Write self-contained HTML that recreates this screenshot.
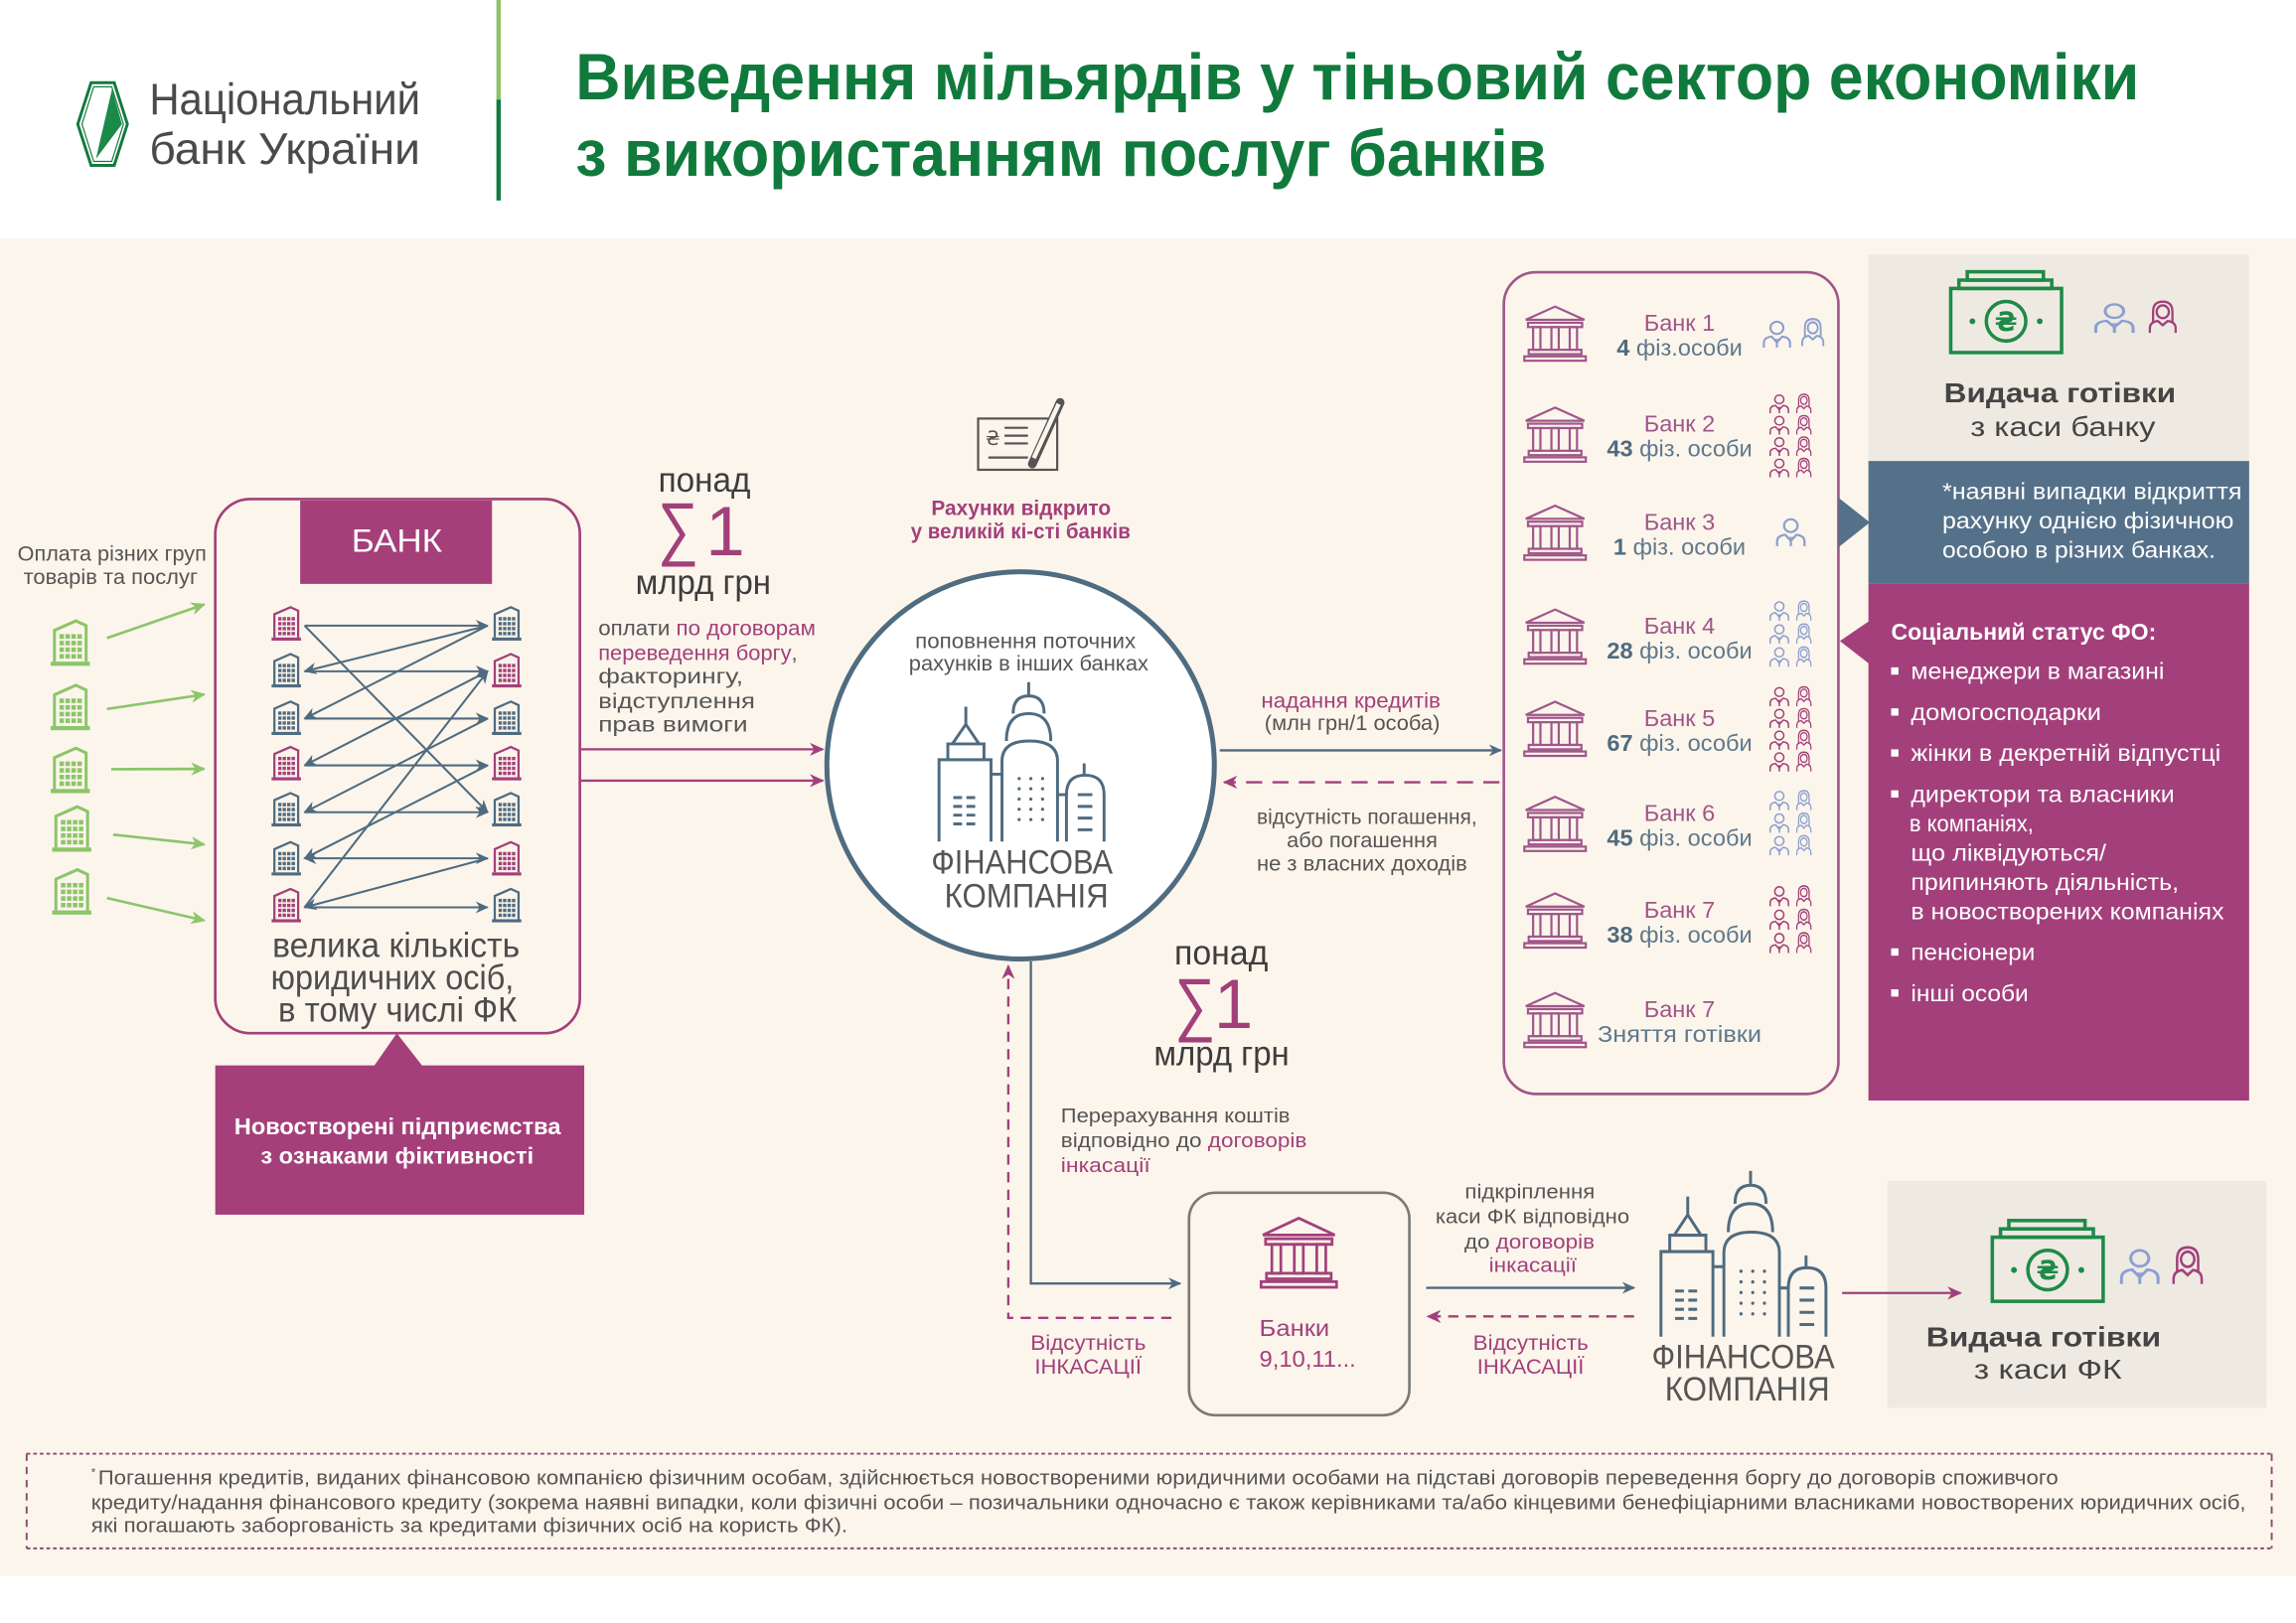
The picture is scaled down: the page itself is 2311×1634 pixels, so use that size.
<!DOCTYPE html>
<html><head><meta charset="utf-8">
<style>
html,body{margin:0;padding:0;background:#fff}
svg{display:block}
text{font-family:"Liberation Sans","DejaVu Sans",sans-serif}
</style></head><body>
<svg xmlns="http://www.w3.org/2000/svg" xmlns:xlink="http://www.w3.org/1999/xlink" width="2311" height="1634" viewBox="0 0 1568 1109" preserveAspectRatio="none">
<defs>
<marker id="mS" viewBox="0 0 10 10" refX="9" refY="5" markerWidth="9" markerHeight="9" markerUnits="userSpaceOnUse" orient="auto-start-reverse"><path d="M0,0.5 L10,5 L0,9.5 L3,5 Z" fill="#4f6b80"/></marker>
<marker id="mP" viewBox="0 0 10 10" refX="9" refY="5" markerWidth="10" markerHeight="10" markerUnits="userSpaceOnUse" orient="auto-start-reverse"><path d="M0,0.5 L10,5 L0,9.5 L3,5 Z" fill="#a2407b"/></marker>
<marker id="mG" viewBox="0 0 10 10" refX="9" refY="5" markerWidth="10" markerHeight="10" markerUnits="userSpaceOnUse" orient="auto"><path d="M0,0.5 L10,5 L0,9.5 L3,5 Z" fill="#8cc56a"/></marker>
<symbol id="temple" viewBox="0 0 44 40" preserveAspectRatio="none">
<g fill="none" stroke="currentColor" stroke-width="1.5">
<path d="M2 10.5 L22 1.5 L42 10.5 Z"/>
<rect x="3.5" y="12.5" width="37" height="3"/>
<rect x="7" y="15.5" width="5" height="15.5"/>
<rect x="19.5" y="15.5" width="5" height="15.5"/>
<rect x="32" y="15.5" width="5" height="15.5"/>
<rect x="4" y="31" width="36" height="3"/>
<rect x="1" y="35.5" width="42" height="3"/>
</g></symbol>
<symbol id="bld" viewBox="0 0 22 27" preserveAspectRatio="none">
<path d="M2.5 24 V7.5 L14 2.5 L19.5 5 V24" fill="none" stroke="currentColor" stroke-width="1.6"/>
<g fill="currentColor">
<rect x="5.2" y="9.5" width="2.4" height="2.4"/><rect x="8.4" y="9.5" width="2.4" height="2.4"/><rect x="11.6" y="9.5" width="2.4" height="2.4"/><rect x="14.8" y="9.5" width="2.4" height="2.4"/>
<rect x="5.2" y="13" width="2.4" height="2.4"/><rect x="8.4" y="13" width="2.4" height="2.4"/><rect x="11.6" y="13" width="2.4" height="2.4"/><rect x="14.8" y="13" width="2.4" height="2.4"/>
<rect x="5.2" y="16.5" width="2.4" height="2.4"/><rect x="8.4" y="16.5" width="2.4" height="2.4"/><rect x="11.6" y="16.5" width="2.4" height="2.4"/><rect x="14.8" y="16.5" width="2.4" height="2.4"/>
<rect x="5.2" y="20" width="2.4" height="2.4"/><rect x="8.4" y="20" width="2.4" height="2.4"/><rect x="11.6" y="20" width="2.4" height="2.4"/><rect x="14.8" y="20" width="2.4" height="2.4"/>
<rect x="0.5" y="24" width="21" height="2.2"/>
</g></symbol>
<symbol id="man" viewBox="0 0 20 20" preserveAspectRatio="none">
<g fill="none" stroke="currentColor" stroke-width="1.4">
<circle cx="10" cy="6" r="4.2"/>
<path d="M1.5 19.5 V16.5 Q1.5 12.5 6.5 12 L10 16 L13.5 12 Q18.5 12.5 18.5 16.5 V19.5"/>
<path d="M9 13.5 L10 16 L11 13.5 M10 16 V19.5"/>
</g></symbol>
<symbol id="wom" viewBox="0 0 20 20" preserveAspectRatio="none">
<g fill="none" stroke="currentColor" stroke-width="1.4">
<path d="M4 13 V7 Q4 1 10 1 Q16 1 16 7 V13"/>
<circle cx="10" cy="7" r="3.8"/>
<path d="M2 19.5 V17 Q2 13 7 12.5 L10 15 L13 12.5 Q18 13 18 17 V19.5"/>
</g></symbol>
<g id="sky" fill="none" stroke="#4f6b80" stroke-width="2">
<path d="M659.6 482.9 V494.9 M650.4 508.3 L659.6 494.9 L668.6 508.3"/>
<path d="M647.3 519.1 V508.3 H672 V519.1"/>
<path d="M641.3 575 V519.1 H676.8 V575"/>
<path d="M702.5 466.1 V475.5"/>
<path d="M691.9 487.6 Q691.9 475.5 702.5 475.5 Q713.1 475.5 713.1 487.6"/>
<path d="M687.3 506.3 Q687.3 487.6 702.5 487.6 Q717.6 487.6 717.6 506.3"/>
<path d="M684.3 575 V520 Q684.3 506.3 703 506.3 Q722.2 506.3 722.2 520 V575"/>
<path d="M740.4 521.6 V529.7"/>
<path d="M728.3 575 V543 Q728.3 529.7 741 529.7 Q754 529.7 754 543 V575"/>
<path d="M676.8 529 H684.3 M722.2 543 H728.3"/>
<path d="M651 545 H657 M660 545 H666 M651 551 H657 M660 551 H666 M651 557 H657 M660 557 H666 M651 563 H657 M660 563 H666"/>
<path d="M736 543 H746 M736 551 H746 M736 559 H746 M736 567 H746"/>
<g fill="#4f6b80" stroke="none">
<circle cx="696" cy="532" r="1.1"/><circle cx="704" cy="532" r="1.1"/><circle cx="712" cy="532" r="1.1"/>
<circle cx="696" cy="539" r="1.1"/><circle cx="704" cy="539" r="1.1"/><circle cx="712" cy="539" r="1.1"/>
<circle cx="696" cy="546" r="1.1"/><circle cx="704" cy="546" r="1.1"/><circle cx="712" cy="546" r="1.1"/>
<circle cx="696" cy="553" r="1.1"/><circle cx="704" cy="553" r="1.1"/><circle cx="712" cy="553" r="1.1"/>
<circle cx="696" cy="560" r="1.1"/><circle cx="704" cy="560" r="1.1"/><circle cx="712" cy="560" r="1.1"/>
</g>
</g>
<g id="money">
<g fill="none" stroke="#1f8a47" stroke-width="2.4">
<rect x="1343.5" y="185.7" width="52" height="5.7"/>
<rect x="1337.8" y="191.4" width="63.4" height="5.7"/>
<rect x="1332.2" y="197.1" width="75.7" height="43.8"/>
<circle cx="1370" cy="219.5" r="13.5"/>
</g>
<circle cx="1347" cy="219.5" r="2" fill="#1f8a47"/>
<circle cx="1393" cy="219.5" r="2" fill="#1f8a47"/>
<text x="1370" y="226" font-size="18" font-weight="bold" fill="#1f8a47" text-anchor="middle" style="font-family:'DejaVu Sans',sans-serif">₴</text>
</g>
</defs>

<!-- backgrounds -->
<rect width="1568" height="1109" fill="#fff"/>
<rect y="163" width="1568" height="914" fill="#fcf5eb"/>

<!-- header -->
<polygon points="62.2,56.5 78,56.5 87,84.8 78,113 62.2,113 53.1,84.8" fill="none" stroke="#137a3f" stroke-width="2"/>
<polygon points="64,59.3 76.3,59.3 84.3,84.8 76.3,110.3 64,110.3 56,84.8" fill="none" stroke="#137a3f" stroke-width="0.8"/>
<polygon points="76.5,61 83.3,84.8 65.5,108.5" fill="#1a8a48"/>
<text x="102" y="78" font-size="30" fill="#4a4a4a" textLength="185" lengthAdjust="spacingAndGlyphs">Національний</text>
<text x="102" y="112" font-size="30" fill="#4a4a4a" textLength="185" lengthAdjust="spacingAndGlyphs">банк України</text>
<rect x="339" y="0" width="3" height="68" fill="#8dc26b"/>
<rect x="339" y="68" width="3" height="69" fill="#137a3f"/>
<text x="393" y="68" font-size="45" font-weight="bold" fill="#107a3c" textLength="1068" lengthAdjust="spacingAndGlyphs">Виведення мільярдів у тіньовий сектор економіки</text>
<text x="393" y="120" font-size="45" font-weight="bold" fill="#107a3c" textLength="663" lengthAdjust="spacingAndGlyphs">з використанням послуг банків</text>

<!-- left inputs -->
<text x="12" y="383" font-size="14.5" fill="#555" textLength="129" lengthAdjust="spacingAndGlyphs">Оплата різних груп</text>
<text x="16" y="399" font-size="14.5" fill="#555" textLength="119" lengthAdjust="spacingAndGlyphs">товарів та послуг</text>
<g style="color:#8cc56a">
<use xlink:href="#bld" href="#bld" x="34" y="421" width="28" height="35"/>
<use xlink:href="#bld" href="#bld" x="34" y="465" width="28" height="35"/>
<use xlink:href="#bld" href="#bld" x="34" y="508" width="28" height="35"/>
<use xlink:href="#bld" href="#bld" x="35" y="548" width="28" height="35"/>
<use xlink:href="#bld" href="#bld" x="35" y="591" width="28" height="35"/>
</g>
<g stroke="#8cc56a" stroke-width="1.8" marker-end="url(#mG)">
<line x1="73" y1="436" x2="139.5" y2="413"/>
<line x1="73" y1="484.5" x2="139.5" y2="474.5"/>
<line x1="76" y1="525.6" x2="139.5" y2="525.4"/>
<line x1="77.3" y1="570.3" x2="139.5" y2="577"/>
<line x1="73" y1="613.6" x2="139.5" y2="629"/>
</g>

<!-- bank box -->
<rect x="147" y="341" width="249" height="365" rx="24" fill="none" stroke="#a2407b" stroke-width="1.8"/>
<rect x="205" y="342" width="131" height="57" fill="#a43f7a"/>
<text x="240" y="377" font-size="22" fill="#fff" textLength="62" lengthAdjust="spacingAndGlyphs">БАНК</text>
<g>
<use xlink:href="#bld" href="#bld" x="185" y="412.5" width="21" height="26" style="color:#a2407b"/>
<use xlink:href="#bld" href="#bld" x="185" y="444.5" width="21" height="26" style="color:#4f6b80"/>
<use xlink:href="#bld" href="#bld" x="185" y="477" width="21" height="26" style="color:#4f6b80"/>
<use xlink:href="#bld" href="#bld" x="185" y="508" width="21" height="26" style="color:#a2407b"/>
<use xlink:href="#bld" href="#bld" x="185" y="539.5" width="21" height="26" style="color:#4f6b80"/>
<use xlink:href="#bld" href="#bld" x="185" y="573" width="21" height="26" style="color:#4f6b80"/>
<use xlink:href="#bld" href="#bld" x="185" y="605" width="21" height="26" style="color:#a2407b"/>
<use xlink:href="#bld" href="#bld" x="335.5" y="412.5" width="21" height="26" style="color:#4f6b80"/>
<use xlink:href="#bld" href="#bld" x="335.5" y="444.5" width="21" height="26" style="color:#a2407b"/>
<use xlink:href="#bld" href="#bld" x="335.5" y="477" width="21" height="26" style="color:#4f6b80"/>
<use xlink:href="#bld" href="#bld" x="335.5" y="508" width="21" height="26" style="color:#a2407b"/>
<use xlink:href="#bld" href="#bld" x="335.5" y="539.5" width="21" height="26" style="color:#4f6b80"/>
<use xlink:href="#bld" href="#bld" x="335.5" y="573" width="21" height="26" style="color:#a2407b"/>
<use xlink:href="#bld" href="#bld" x="335.5" y="605" width="21" height="26" style="color:#4f6b80"/>
</g>
<g stroke="#4f6b80" stroke-width="1.4" fill="none" marker-end="url(#mS)">
<line x1="208" y1="427.5" x2="333" y2="427.5"/>
<line x1="208" y1="458.7" x2="333" y2="458.7"/>
<line x1="208" y1="491" x2="333" y2="491"/>
<line x1="208" y1="523" x2="333" y2="523"/>
<line x1="208" y1="555" x2="333" y2="555"/>
<line x1="208" y1="586.5" x2="333" y2="586.5" marker-start="url(#mS)"/>
<line x1="208" y1="620" x2="333" y2="620"/>
<line x1="208" y1="427.5" x2="333" y2="555"/>
<line x1="333" y1="427.5" x2="208" y2="458.7"/>
<line x1="333" y1="427.5" x2="208" y2="491"/>
<line x1="333" y1="458.7" x2="208" y2="523"/>
<line x1="333" y1="491" x2="208" y2="555"/>
<line x1="333" y1="523" x2="208" y2="586.5"/>
<line x1="208" y1="620" x2="333" y2="458.7"/>
<line x1="333" y1="586.5" x2="208" y2="620"/>
</g>
<text x="186" y="654" font-size="24" fill="#4d4d4d" textLength="169" lengthAdjust="spacingAndGlyphs">велика кількість</text>
<text x="185" y="676" font-size="24" fill="#4d4d4d" textLength="166" lengthAdjust="spacingAndGlyphs">юридичних осіб,</text>
<text x="190" y="698" font-size="24" fill="#4d4d4d" textLength="163" lengthAdjust="spacingAndGlyphs">в тому числі ФК</text>
<polygon points="255,729 271,706 289,729" fill="#a43f7a"/>
<rect x="147" y="728" width="252" height="102" fill="#a43f7a"/>
<text x="160" y="775" font-size="15.5" font-weight="bold" fill="#fff" textLength="223" lengthAdjust="spacingAndGlyphs">Новостворені підприємства</text>
<text x="178" y="795" font-size="15.5" font-weight="bold" fill="#fff" textLength="186.5" lengthAdjust="spacingAndGlyphs">з ознаками фіктивності</text>

<!-- middle-left text -->
<text x="449.6" y="336" font-size="24" fill="#3d3d3d" textLength="63" lengthAdjust="spacingAndGlyphs">понад</text>
<text x="449" y="377" font-size="48" fill="#a2407b" textLength="28" lengthAdjust="spacingAndGlyphs">∑</text>
<text x="482" y="379.5" font-size="48" fill="#a2407b">1</text>
<text x="434" y="406" font-size="24" fill="#3d3d3d" textLength="92.5" lengthAdjust="spacingAndGlyphs">млрд грн</text>
<text x="408.6" y="434" font-size="14.5" fill="#555" textLength="148.4" lengthAdjust="spacingAndGlyphs">оплати <tspan fill="#a2407b">по договорам</tspan></text>
<text x="408.6" y="451" font-size="14.5" fill="#555" textLength="136" lengthAdjust="spacingAndGlyphs"><tspan fill="#a2407b">переведення боргу</tspan>,</text>
<text x="408.6" y="467" font-size="14.5" fill="#555" textLength="99" lengthAdjust="spacingAndGlyphs">факторингу,</text>
<text x="408.6" y="484" font-size="14.5" fill="#555" textLength="107" lengthAdjust="spacingAndGlyphs">відступлення</text>
<text x="408.6" y="500" font-size="14.5" fill="#555" textLength="102" lengthAdjust="spacingAndGlyphs">прав вимоги</text>
<g stroke="#a2407b" stroke-width="1.6" marker-end="url(#mP)">
<line x1="396" y1="512" x2="562" y2="512"/>
<line x1="396" y1="533.4" x2="562" y2="533.4"/>
</g>

<!-- check icon -->
<g fill="none" stroke="#555" stroke-width="1.5">
<rect x="668" y="286" width="54" height="35"/>
<path d="M686 292.3 H702 M686 297.7 H702 M686 303 H702 M675 312.6 H702"/>
</g>
<line x1="705" y1="317" x2="724" y2="275" stroke="#555" stroke-width="6" stroke-linecap="round"/>
<line x1="706" y1="313" x2="723" y2="276" stroke="#fcf5eb" stroke-width="3"/>
<text x="673" y="304" font-size="13" fill="#555" style="font-family:'DejaVu Sans',sans-serif">₴</text>
<text x="636" y="352" font-size="14.5" font-weight="bold" fill="#a2407b" textLength="122.6" lengthAdjust="spacingAndGlyphs">Рахунки відкрито</text>
<text x="622" y="368" font-size="14.5" font-weight="bold" fill="#a2407b" textLength="150" lengthAdjust="spacingAndGlyphs">у великій кі-сті банків</text>

<!-- circle -->
<circle cx="697" cy="523" r="132.3" fill="#fff" stroke="#4f6c81" stroke-width="3.4"/>
<text x="625" y="443" font-size="14.5" fill="#555" textLength="150.6" lengthAdjust="spacingAndGlyphs">поповнення поточних</text>
<text x="620.7" y="458" font-size="14.5" fill="#555" textLength="163.6" lengthAdjust="spacingAndGlyphs">рахунків в інших банках</text>
<use xlink:href="#sky" href="#sky"/>
<text x="636" y="597" font-size="23" fill="#555" textLength="124" lengthAdjust="spacingAndGlyphs">ФІНАНСОВА</text>
<text x="645" y="620" font-size="23" fill="#555" textLength="112" lengthAdjust="spacingAndGlyphs">КОМПАНІЯ</text>

<!-- right arrows -->
<line x1="833" y1="512.7" x2="1025" y2="512.7" stroke="#4f6b80" stroke-width="1.6" marker-end="url(#mS)"/>
<line x1="1024" y1="534.5" x2="836" y2="534.5" stroke="#a2407b" stroke-width="1.6" stroke-dasharray="11 7" marker-end="url(#mP)"/>
<text x="861.3" y="483.5" font-size="14.5" fill="#a2407b" textLength="122.5" lengthAdjust="spacingAndGlyphs">надання кредитів</text>
<text x="863.6" y="499" font-size="14.5" fill="#555" textLength="119.8" lengthAdjust="spacingAndGlyphs">(млн грн/1 особа)</text>
<text x="858.3" y="563" font-size="14.5" fill="#555" textLength="150.4" lengthAdjust="spacingAndGlyphs">відсутність погашення,</text>
<text x="878.7" y="579" font-size="14.5" fill="#555" textLength="103" lengthAdjust="spacingAndGlyphs">або погашення</text>
<text x="858.3" y="595" font-size="14.5" fill="#555" textLength="143.7" lengthAdjust="spacingAndGlyphs">не з власних доходів</text>

<!-- bank list box -->
<rect x="1027" y="186" width="228.5" height="561.5" rx="22" fill="none" stroke="#a0578b" stroke-width="1.8"/>
<g style="color:#a0578b">
<use xlink:href="#temple" href="#temple" x="1040" y="208" width="44" height="40"/>
<use xlink:href="#temple" href="#temple" x="1040" y="277" width="44" height="40"/>
<use xlink:href="#temple" href="#temple" x="1040" y="344" width="44" height="40"/>
<use xlink:href="#temple" href="#temple" x="1040" y="415" width="44" height="40"/>
<use xlink:href="#temple" href="#temple" x="1040" y="478" width="44" height="40"/>
<use xlink:href="#temple" href="#temple" x="1040" y="543" width="44" height="40"/>
<use xlink:href="#temple" href="#temple" x="1040" y="609" width="44" height="40"/>
<use xlink:href="#temple" href="#temple" x="1040" y="677" width="44" height="40"/>
</g>
<g font-size="16" text-anchor="middle">
<text x="1147" y="226" fill="#a0578b">Банк 1</text>
<text x="1147" y="243" fill="#5f788c"><tspan font-weight="bold" fill="#4f6b80">4</tspan> фіз.особи</text>
<text x="1147" y="295" fill="#a0578b">Банк 2</text>
<text x="1147" y="312" fill="#5f788c"><tspan font-weight="bold" fill="#4f6b80">43</tspan> фіз. особи</text>
<text x="1147" y="362" fill="#a0578b">Банк 3</text>
<text x="1147" y="379" fill="#5f788c"><tspan font-weight="bold" fill="#4f6b80">1</tspan> фіз. особи</text>
<text x="1147" y="433" fill="#a0578b">Банк 4</text>
<text x="1147" y="450" fill="#5f788c"><tspan font-weight="bold" fill="#4f6b80">28</tspan> фіз. особи</text>
<text x="1147" y="496" fill="#a0578b">Банк 5</text>
<text x="1147" y="513" fill="#5f788c"><tspan font-weight="bold" fill="#4f6b80">67</tspan> фіз. особи</text>
<text x="1147" y="561" fill="#a0578b">Банк 6</text>
<text x="1147" y="578" fill="#5f788c"><tspan font-weight="bold" fill="#4f6b80">45</tspan> фіз. особи</text>
<text x="1147" y="627" fill="#a0578b">Банк 7</text>
<text x="1147" y="644" fill="#5f788c"><tspan font-weight="bold" fill="#4f6b80">38</tspan> фіз. особи</text>
<text x="1147" y="695" fill="#a0578b">Банк 7</text>
<text x="1147" y="712" fill="#5f788c" textLength="112" lengthAdjust="spacingAndGlyphs">Зняття готівки</text>
</g>
<!-- people -->
<g style="color:#8b9fd0">
<use xlink:href="#man" href="#man" x="1203" y="218" width="21" height="20"/>
<use xlink:href="#wom" href="#wom" x="1229" y="217" width="18" height="20"/>
<use xlink:href="#man" href="#man" x="1212" y="353" width="22" height="20.7"/>
<use xlink:href="#man" href="#man" x="1207.8" y="410" width="14.7" height="14.5"/><use xlink:href="#wom" href="#wom" x="1225.9" y="410" width="12" height="14.5"/>
<use xlink:href="#man" href="#man" x="1207.8" y="425.7" width="14.7" height="14.5"/><use xlink:href="#wom" href="#wom" x="1225.9" y="425.7" width="12" height="14.5"/>
<use xlink:href="#man" href="#man" x="1207.8" y="441.4" width="14.7" height="14.5"/><use xlink:href="#wom" href="#wom" x="1225.9" y="441.4" width="12" height="14.5"/>
<use xlink:href="#man" href="#man" x="1207.8" y="539.5" width="14.7" height="14.5"/><use xlink:href="#wom" href="#wom" x="1225.9" y="539.5" width="12" height="14.5"/>
<use xlink:href="#man" href="#man" x="1207.8" y="554.9" width="14.7" height="14.5"/><use xlink:href="#wom" href="#wom" x="1225.9" y="554.9" width="12" height="14.5"/>
<use xlink:href="#man" href="#man" x="1207.8" y="570.3" width="14.7" height="14.5"/><use xlink:href="#wom" href="#wom" x="1225.9" y="570.3" width="12" height="14.5"/>
</g>
<g style="color:#a2407b">
<use xlink:href="#man" href="#man" x="1207.8" y="268.7" width="14.7" height="14"/><use xlink:href="#wom" href="#wom" x="1225.9" y="268.7" width="12" height="14"/>
<use xlink:href="#man" href="#man" x="1207.8" y="283.3" width="14.7" height="14"/><use xlink:href="#wom" href="#wom" x="1225.9" y="283.3" width="12" height="14"/>
<use xlink:href="#man" href="#man" x="1207.8" y="297.9" width="14.7" height="14"/><use xlink:href="#wom" href="#wom" x="1225.9" y="297.9" width="12" height="14"/>
<use xlink:href="#man" href="#man" x="1207.8" y="312.5" width="14.7" height="14"/><use xlink:href="#wom" href="#wom" x="1225.9" y="312.5" width="12" height="14"/>
<use xlink:href="#man" href="#man" x="1207.8" y="468.6" width="14.7" height="14.3"/><use xlink:href="#wom" href="#wom" x="1225.9" y="468.6" width="12" height="14.3"/>
<use xlink:href="#man" href="#man" x="1207.8" y="483.5" width="14.7" height="14.3"/><use xlink:href="#wom" href="#wom" x="1225.9" y="483.5" width="12" height="14.3"/>
<use xlink:href="#man" href="#man" x="1207.8" y="498.3" width="14.7" height="14.3"/><use xlink:href="#wom" href="#wom" x="1225.9" y="498.3" width="12" height="14.3"/>
<use xlink:href="#man" href="#man" x="1207.8" y="513.2" width="14.7" height="14.3"/><use xlink:href="#wom" href="#wom" x="1225.9" y="513.2" width="12" height="14.3"/>
<use xlink:href="#man" href="#man" x="1207.8" y="604.6" width="14.7" height="15"/><use xlink:href="#wom" href="#wom" x="1225.9" y="604.6" width="12" height="15"/>
<use xlink:href="#man" href="#man" x="1207.8" y="620.6" width="14.7" height="15"/><use xlink:href="#wom" href="#wom" x="1225.9" y="620.6" width="12" height="15"/>
<use xlink:href="#man" href="#man" x="1207.8" y="636.6" width="14.7" height="15"/><use xlink:href="#wom" href="#wom" x="1225.9" y="636.6" width="12" height="15"/>
</g>

<!-- right panel -->
<polygon points="1255.5,340 1277,357 1255.5,374" fill="#557189"/>
<rect x="1276" y="174" width="260" height="141" fill="#eeeae2"/>
<rect x="1276" y="315" width="260" height="84" fill="#557189"/>
<rect x="1276" y="399" width="260" height="353" fill="#a3407c"/>
<polygon points="1277,424 1256.5,438 1277,454" fill="#a3407c"/>
<use xlink:href="#money" href="#money"/>
<use xlink:href="#man" href="#man" x="1429" y="206" width="30" height="22" style="color:#8b9fd0"/>
<use xlink:href="#wom" href="#wom" x="1466" y="205" width="22" height="23" style="color:#a2407b"/>
<text x="1327.6" y="275" font-size="19" font-weight="bold" fill="#444" textLength="158.4" lengthAdjust="spacingAndGlyphs">Видача готівки</text>
<text x="1345.6" y="298" font-size="19" fill="#444" textLength="126.4" lengthAdjust="spacingAndGlyphs">з каси банку</text>
<text x="1326.5" y="341" font-size="15.5" fill="#fff" textLength="204.5" lengthAdjust="spacingAndGlyphs">*наявні випадки відкриття</text>
<text x="1326.5" y="361" font-size="15.5" fill="#fff" textLength="199" lengthAdjust="spacingAndGlyphs">рахунку однією фізичною</text>
<text x="1326.5" y="381" font-size="15.5" fill="#fff" textLength="186.5" lengthAdjust="spacingAndGlyphs">особою в різних банках.</text>
<text x="1291.5" y="437" font-size="15.5" font-weight="bold" fill="#fff" textLength="181" lengthAdjust="spacingAndGlyphs">Соціальний статус ФО:</text>
<g fill="#fff">
<rect x="1291.5" y="456" width="5" height="5"/>
<rect x="1291.5" y="484" width="5" height="5"/>
<rect x="1291.5" y="512" width="5" height="5"/>
<rect x="1291.5" y="540" width="5" height="5"/>
<rect x="1291.5" y="648" width="5" height="5"/>
<rect x="1291.5" y="676" width="5" height="5"/>
</g>
<g font-size="15.5" fill="#fff">
<text x="1305" y="464" textLength="173" lengthAdjust="spacingAndGlyphs">менеджери в магазині</text>
<text x="1305" y="492" textLength="130" lengthAdjust="spacingAndGlyphs">домогосподарки</text>
<text x="1305" y="520" textLength="211.6" lengthAdjust="spacingAndGlyphs">жінки в декретній відпустці</text>
<text x="1305" y="548" textLength="180" lengthAdjust="spacingAndGlyphs">директори та власники</text>
<text x="1304" y="568" textLength="84.8" lengthAdjust="spacingAndGlyphs">в компаніях,</text>
<text x="1305" y="588" textLength="133.4" lengthAdjust="spacingAndGlyphs">що ліквідуються/</text>
<text x="1305" y="608" textLength="183" lengthAdjust="spacingAndGlyphs">припиняють діяльність,</text>
<text x="1305" y="628" textLength="213.8" lengthAdjust="spacingAndGlyphs">в новостворених компаніях</text>
<text x="1305" y="656" textLength="84.8" lengthAdjust="spacingAndGlyphs">пенсіонери</text>
<text x="1305" y="684" textLength="80.3" lengthAdjust="spacingAndGlyphs">інші особи</text>
</g>

<!-- bottom middle -->
<text x="802" y="659" font-size="24" fill="#3d3d3d" textLength="64" lengthAdjust="spacingAndGlyphs">понад</text>
<text x="802" y="702" font-size="48" fill="#a2407b" textLength="28" lengthAdjust="spacingAndGlyphs">∑</text>
<text x="829" y="702.5" font-size="48" fill="#a2407b">1</text>
<text x="788" y="728" font-size="24" fill="#3d3d3d" textLength="92.5" lengthAdjust="spacingAndGlyphs">млрд грн</text>
<path d="M704 657 V877 H806" fill="none" stroke="#4f6b80" stroke-width="1.6" marker-end="url(#mS)"/>
<path d="M800 900.5 H688.6 V660" fill="none" stroke="#a2407b" stroke-width="1.6" stroke-dasharray="7 5" marker-end="url(#mP)"/>
<text x="724.5" y="767" font-size="14" fill="#555" textLength="156.5" lengthAdjust="spacingAndGlyphs">Перерахування коштів</text>
<text x="724.5" y="784" font-size="14" fill="#555" textLength="168" lengthAdjust="spacingAndGlyphs">відповідно до <tspan fill="#a2407b">договорів</tspan></text>
<text x="724.5" y="801" font-size="14" fill="#a2407b" textLength="61" lengthAdjust="spacingAndGlyphs">інкасації</text>
<text x="703.8" y="922.4" font-size="14.5" fill="#a2407b" textLength="78.8" lengthAdjust="spacingAndGlyphs">Відсутність</text>
<text x="706.6" y="938.5" font-size="14.5" fill="#a2407b" textLength="73" lengthAdjust="spacingAndGlyphs">ІНКАСАЦІЇ</text>
<rect x="812" y="815" width="150.5" height="152" rx="18" fill="none" stroke="#7a7a7a" stroke-width="1.8"/>
<use xlink:href="#temple" href="#temple" x="860" y="830.5" width="54" height="51" style="color:#a2407b"/>
<text x="860" y="913" font-size="15.5" fill="#a2407b" textLength="48" lengthAdjust="spacingAndGlyphs">Банки</text>
<text x="860" y="934" font-size="15.5" fill="#a2407b" textLength="66" lengthAdjust="spacingAndGlyphs">9,10,11...</text>
<line x1="974" y1="880" x2="1116" y2="880" stroke="#4f6b80" stroke-width="1.6" marker-end="url(#mS)"/>
<line x1="1116" y1="899.5" x2="975" y2="899.5" stroke="#a2407b" stroke-width="1.6" stroke-dasharray="7 5" marker-end="url(#mP)"/>
<text x="1000.4" y="819" font-size="14" fill="#555" textLength="88.8" lengthAdjust="spacingAndGlyphs">підкріплення</text>
<text x="980.3" y="836" font-size="14" fill="#555" textLength="132.5" lengthAdjust="spacingAndGlyphs">каси ФК відповідно</text>
<text x="1000" y="853" font-size="14" fill="#555" textLength="89" lengthAdjust="spacingAndGlyphs">до <tspan fill="#a2407b">договорів</tspan></text>
<text x="1016.8" y="869" font-size="14" fill="#a2407b" textLength="60" lengthAdjust="spacingAndGlyphs">інкасації</text>
<text x="1006" y="922.4" font-size="14.5" fill="#a2407b" textLength="78.8" lengthAdjust="spacingAndGlyphs">Відсутність</text>
<text x="1008.8" y="938.5" font-size="14.5" fill="#a2407b" textLength="73" lengthAdjust="spacingAndGlyphs">ІНКАСАЦІЇ</text>
<use xlink:href="#sky" href="#sky" transform="translate(1134,800) scale(1,1.04) translate(-641,-466)"/>
<text x="1128" y="935" font-size="23" fill="#555" textLength="125" lengthAdjust="spacingAndGlyphs">ФІНАНСОВА</text>
<text x="1137" y="957" font-size="23" fill="#555" textLength="112.6" lengthAdjust="spacingAndGlyphs">КОМПАНІЯ</text>
<rect x="1289" y="807" width="258.7" height="155" fill="#eeeae2"/>
<line x1="1258" y1="883.5" x2="1339" y2="883.5" stroke="#a2407b" stroke-width="1.6" marker-end="url(#mP)"/>
<use xlink:href="#money" href="#money" transform="translate(28.4,648.3)"/>
<use xlink:href="#man" href="#man" x="1446.6" y="852" width="29.4" height="26" style="color:#8b9fd0"/>
<use xlink:href="#wom" href="#wom" x="1482" y="851" width="24" height="27" style="color:#a2407b"/>
<text x="1315.4" y="920" font-size="19" font-weight="bold" fill="#444" textLength="160.4" lengthAdjust="spacingAndGlyphs">Видача готівки</text>
<text x="1348" y="942" font-size="19" fill="#444" textLength="101" lengthAdjust="spacingAndGlyphs">з каси ФК</text>

<!-- footer -->
<g stroke="#8b4a77" stroke-width="1.3" fill="none">
<line x1="18.2" y1="993.3" x2="1551.4" y2="993.3" stroke-dasharray="2.5 2"/>
<line x1="18.2" y1="1058" x2="1551.4" y2="1058" stroke-dasharray="2.5 2"/>
<line x1="18.2" y1="993.3" x2="18.2" y2="1058" stroke-dasharray="5 4"/>
<line x1="1551.4" y1="993.3" x2="1551.4" y2="1058" stroke-dasharray="5 4"/>
</g>
<text x="62.3" y="1009" font-size="8" fill="#555">*</text>
<text x="67" y="1014.4" font-size="13.5" fill="#555" textLength="1338.7" lengthAdjust="spacingAndGlyphs">Погашення кредитів, виданих фінансовою компанією фізичним особам, здійснюється новоствореними юридичними особами на підставі договорів переведення боргу до договорів споживчого</text>
<text x="62.3" y="1031.3" font-size="13.5" fill="#555" textLength="1471.5" lengthAdjust="spacingAndGlyphs">кредиту/надання фінансового кредиту (зокрема наявні випадки, коли фізичні особи – позичальники одночасно є також керівниками та/або кінцевими бенефіціарними власниками новостворених юридичних осіб,</text>
<text x="62.3" y="1047" font-size="13.5" fill="#555" textLength="516.5" lengthAdjust="spacingAndGlyphs">які погашають заборгованість за кредитами фізичних осіб на користь ФК).</text>
</svg>
</body></html>
